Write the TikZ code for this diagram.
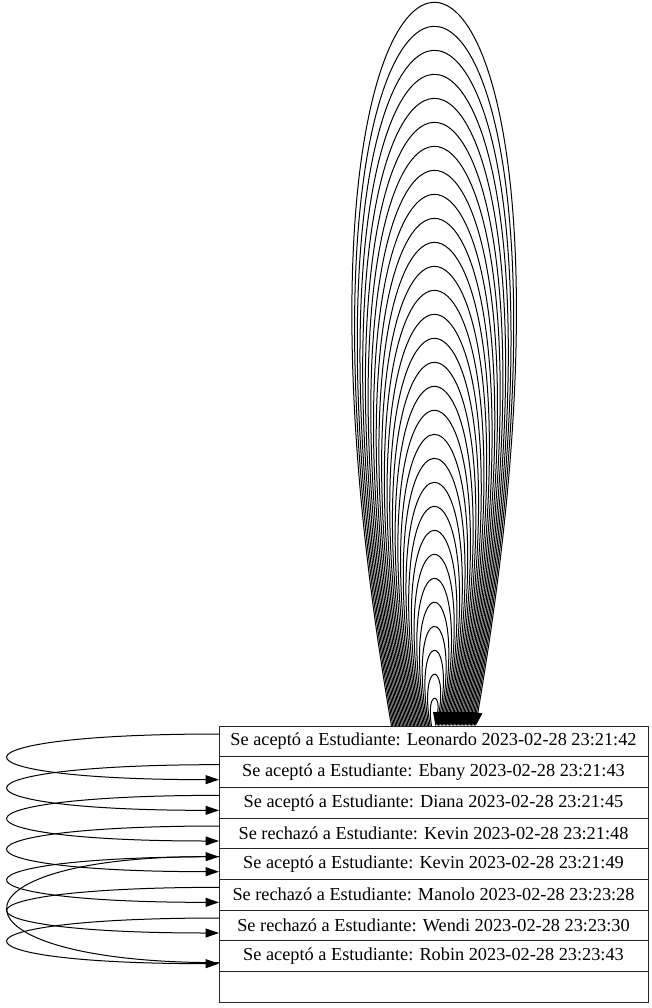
\documentclass[tikz,border=0pt]{standalone}
\usepackage{fontspec}
\setmainfont{Liberation Serif}
\usetikzlibrary{arrows.meta,calc}
\tikzset{
  >={Triangle[length=13.5pt,width=9pt]},
  % registro
  fld/.style={draw=black!85,line width=0.95pt,fill=white,outer sep=0pt,inner sep=0pt,
              minimum width=429pt,minimum height=30.67pt,
              font=\fontsize{18.3}{22}\selectfont},
  % lazos
  lz/.style={->,draw=black,line width=1pt},
}
\begin{document}
\begin{tikzpicture}[x=1pt,y=-1pt]
  \useasboundingbox (0,0) rectangle (652,1008);
  \node[fld] (f0) at (433.5,741.33) {Se aceptó a Estudiante: Leonardo 2023-02-28 23:21:42};
  \node[fld] (f1) at (433.5,772.00) {Se aceptó a Estudiante: Ebany 2023-02-28 23:21:43};
  \node[fld] (f2) at (433.5,802.67) {Se aceptó a Estudiante: Diana 2023-02-28 23:21:45};
  \node[fld] (f3) at (433.5,833.33) {Se rechazó a Estudiante: Kevin 2023-02-28 23:21:48};
  \node[fld] (f4) at (433.5,864.00) {Se aceptó a Estudiante: Kevin 2023-02-28 23:21:49};
  \node[fld] (f5) at (433.5,894.67) {Se rechazó a Estudiante: Manolo 2023-02-28 23:23:28};
  \node[fld] (f6) at (433.5,925.33) {Se rechazó a Estudiante: Wendi 2023-02-28 23:23:30};
  \node[fld] (f7) at (433.5,956.00) {Se aceptó a Estudiante: Robin 2023-02-28 23:23:43};
  \node[fld] (f8) at (433.5,986.67) {};
  % lazos de arriba
  \foreach \k in {0,...,29}{
    \pgfmathsetmacro{\lzh}{(26+24*\k)/0.75}
    \pgfmathsetmacro{\lza}{0.215*\lzh}
    \pgfmathsetmacro{\lzb}{2+1.38*\k}
    \draw[lz] ($(f0.north)+(-\lzb,0)$) .. controls ($(f0.north)+(-\lza,-\lzh)$)
      and ($(f0.north)+(\lza,-\lzh)$) .. ($(f0.north)+(\lzb,0)$);
  }
  % lazos a la izquierda
  \foreach \i/\j in {f0/f1,f1/f2,f2/f3,f3/f4,f4/f5,f5/f6,f6/f7}
    \draw[lz] ($(\i.north west)+(0,8)$) .. controls +(-281,0) and +(-281,0) .. ($(\j.north west)+(0,23)$);
  \draw[lz] ($(f7.north west)+(0,22)$) .. controls +(-281,0) and +(-281,0) .. ($(f4.north west)+(0,8)$);
\end{tikzpicture}
\end{document}
